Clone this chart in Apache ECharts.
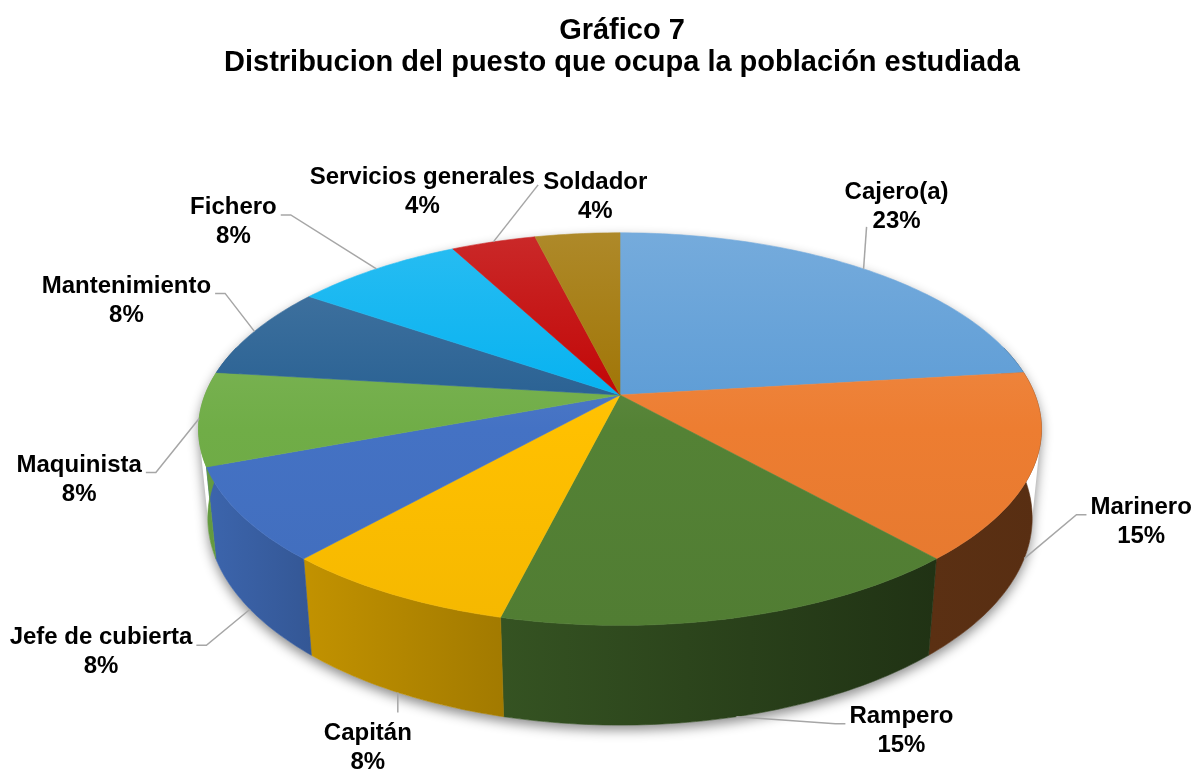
<!DOCTYPE html>
<html>
<head>
<meta charset="utf-8">
<title>Gráfico 7</title>
<script src="https://cdn.jsdelivr.net/npm/echarts@6/dist/echarts.min.js"></script>
<style>
html, body { margin: 0; padding: 0; background: #fff; }
#chart { width: 1195px; height: 773px; }
</style>
</head>
<body>
<div id="chart"></div>
<script>
var categories = ['Cajero(a)', 'Marinero', 'Rampero', 'Capitán', 'Jefe de cubierta', 'Maquinista', 'Mantenimiento', 'Fichero', 'Servicios generales', 'Soldador'];
var counts = [6, 4, 4, 2, 2, 2, 2, 2, 1, 1];
var colors = ['#5B9BD5', '#ED7D31', '#548235', '#FFC000', '#4472C4', '#70AD47', '#255E91', '#00B0F0', '#C00000', '#9E7200'];

// where each label sits, relative to the rim point of its slice
var labelShift = [[33, -62], [117, -37], [165, 14], [-30, 55], [-149, 43], [-120, 61], [-128, -31], [-143, -47], [-71, -50], [18, -37]];
var leaderMode = ['under', 'side', 'side', 'top', 'side', 'side', 'side', 'side', 'corner', 'none'];

var total = counts.reduce(function (a, b) { return a + b; }, 0);
var startDeg = [];
var acc = 0;
counts.forEach(function (v) {
    startDeg.push(acc / total * 360);
    acc += v;
});

// simple perspective camera looking down on the disc
var cx = 620, cy = 395, focal = 2125, dist = 5.12, thick = 0.243;
var tilt = 27.3 * Math.PI / 180;
var ct = Math.cos(tilt), st = Math.sin(tilt);

function project(deg, r, h) {
    var t = deg * Math.PI / 180;
    var X = r * Math.sin(t), Z = -r * Math.cos(t);
    var d = dist - Z * ct - h * st;
    return [cx + focal * X / d, cy + focal * (Z * st - h * ct) / d];
}

function arc(a0, a1, h) {
    var pts = [];
    var n = Math.max(2, Math.ceil(Math.abs(a1 - a0)));
    for (var k = 0; k <= n; k++) {
        pts.push(project(a0 + (a1 - a0) * k / n, 1, h));
    }
    return pts;
}

function tint(hex, k) {
    var n = parseInt(hex.slice(1), 16);
    var rgb = [n >> 16 & 255, n >> 8 & 255, n & 255];
    return 'rgb(' + rgb.map(function (v) {
        v = k < 0 ? v * (1 + k) : v + (255 - v) * k;
        return Math.round(v);
    }).join(',') + ')';
}

function wallK(deg) {
    return Math.min(0.9, 0.37 + Math.max(0, deg - 135) * 0.0045);
}

function renderWall(params, api) {
    var i = params.dataIndex;
    var a0 = Math.max(startDeg[i], 75);
    var a1 = Math.min(startDeg[i] + api.value(0) / total * 360, 285);
    if (a1 <= a0) return null;
    var pts = arc(a0, a1, 0).concat(arc(a1, a0, -thick));
    var fill = new echarts.graphic.LinearGradient(0, 0, 1, 0, [
        { offset: 0, color: tint(colors[i], wallK(a1) - 1) },
        { offset: 1, color: tint(colors[i], wallK(a0) - 1) }
    ]);
    return {
        type: 'polygon',
        shape: { points: pts },
        style: { fill: fill, stroke: fill, lineWidth: 0.6 }
    };
}

function renderTop(params, api) {
    var i = params.dataIndex;
    var a0 = startDeg[i];
    var a1 = a0 + api.value(0) / total * 360;
    var pts = [project(0, 0, 0)].concat(arc(a0, a1, 0));
    var fill = new echarts.graphic.LinearGradient(0, 233, 0, 625, [
        { offset: 0, color: tint(colors[i], 0.16) },
        { offset: 0.5, color: colors[i] },
        { offset: 1, color: tint(colors[i], -0.04) }
    ], true);
    return {
        type: 'polygon',
        shape: { points: pts },
        style: { fill: fill, stroke: fill, lineWidth: 0.6 }
    };
}

var labelFont = 'bold 24px "Liberation Sans", Arial, sans-serif';
var measure = document.createElement('canvas').getContext('2d');
measure.font = labelFont;

function renderLabel(params, api) {
    var i = params.dataIndex;
    var v = api.value(0);
    var mid = startDeg[i] + v / total * 180;
    var front = Math.cos(mid * Math.PI / 180) < -0.2;
    var A = project(mid, 1, front ? -thick : 0);
    var L = [A[0] + labelShift[i][0], A[1] + labelShift[i][1]];
    var pct = Math.round(v / total * 100) + '%';
    var pw = measure.measureText(pct).width / 2;
    var hw = Math.max(measure.measureText(categories[i]).width / 2, pw);
    var s = L[0] > A[0] ? -1 : 1;
    var pts = null;
    var mode = leaderMode[i];
    if (mode === 'side') {
        var ex = L[0] + s * (hw + 4), ey = L[1] - 7;
        pts = [A, [ex + s * 10, ey], [ex, ey]];
    } else if (mode === 'corner') {
        pts = [A, [L[0] + s * (hw + 3), L[1] - 7]];
    } else if (mode === 'under') {
        pts = [A, [L[0] + s * (pw + 6), L[1] + 20]];
    } else if (mode === 'top') {
        pts = [A, [A[0], L[1] + (L[1] > A[1] ? -35 : 35)]];
    }
    var children = [];
    if (pts) {
        children.push({
            type: 'polyline',
            shape: { points: pts },
            style: { stroke: '#A6A6A6', lineWidth: 1.5, fill: null }
        });
    }
    children.push({
        type: 'text',
        style: {
            text: categories[i] + '\n' + pct,
            x: L[0],
            y: L[1],
            align: 'center',
            verticalAlign: 'middle',
            fontSize: 24,
            fontWeight: 'bold',
            fontFamily: '"Liberation Sans", Arial, sans-serif',
            lineHeight: 29,
            fill: '#000'
        }
    });
    return { type: 'group', children: children };
}

var outline = arc(260, 460, 0).concat(arc(100, 260, -thick));

var option = {
    animation: false,
    backgroundColor: '#fff',
    title: {
        text: 'Gráfico 7\nDistribucion del puesto que ocupa la población estudiada',
        left: 617,
        top: 10,
        textAlign: 'center',
        textStyle: {
            fontSize: 29,
            fontWeight: 'bold',
            fontFamily: '"Liberation Sans", Arial, sans-serif',
            lineHeight: 32,
            color: '#000'
        }
    },
    graphic: [{
        type: 'polygon',
        z: 0,
        shape: { points: outline },
        style: {
            fill: '#fff',
            shadowBlur: 12,
            shadowOffsetY: 5,
            shadowColor: 'rgba(0,0,0,0.45)'
        }
    }],
    series: [{
        type: 'custom',
        name: 'lados',
        coordinateSystem: 'none',
        z: 2,
        renderItem: renderWall,
        data: counts
    }, {
        type: 'custom',
        name: 'caras',
        coordinateSystem: 'none',
        z: 3,
        renderItem: renderTop,
        data: counts
    }, {
        type: 'custom',
        name: 'etiquetas',
        coordinateSystem: 'none',
        z: 4,
        renderItem: renderLabel,
        data: counts
    }]
};

echarts.init(document.getElementById('chart')).setOption(option);
</script>
</body>
</html>
